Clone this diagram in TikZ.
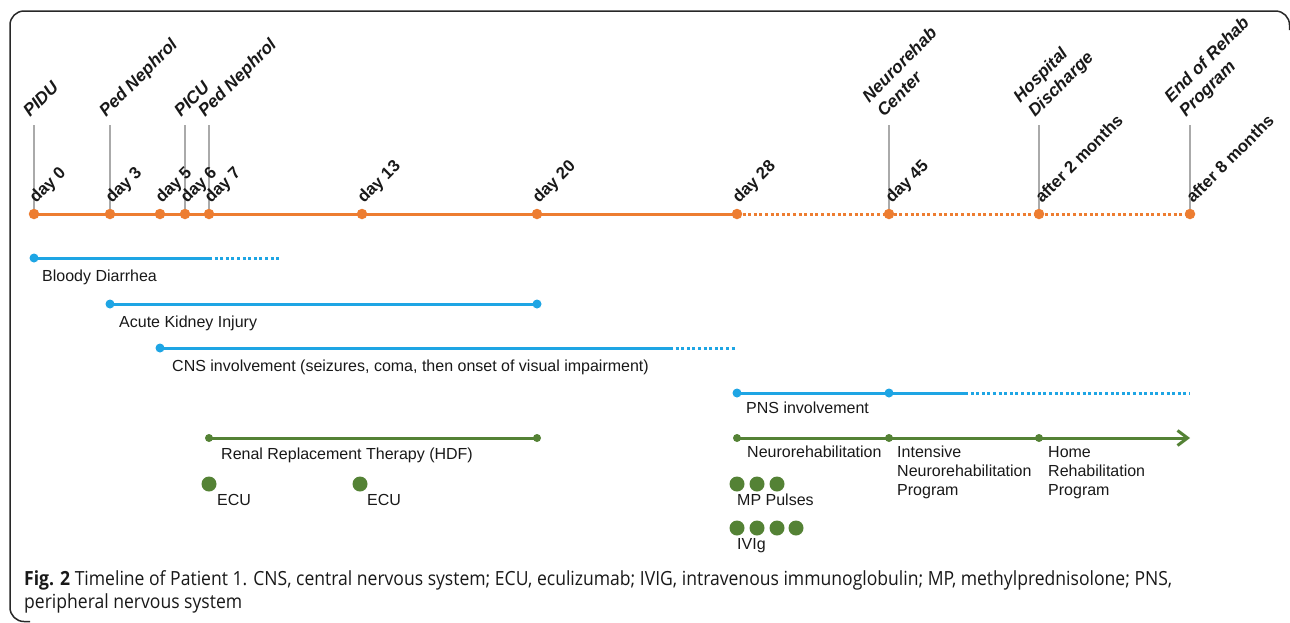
\documentclass[tikz,border=0pt]{standalone}
\usepackage{fontspec}
\setmainfont{Liberation Sans}
\newfontfamily\capfont[FakeStretch=0.9]{Open Sans}
\usetikzlibrary{arrows.meta}
\definecolor{tlorange}{RGB}{237,125,49}
\definecolor{tlblue}{RGB}{30,165,228}
\definecolor{tlgreen}{RGB}{84,130,53}
\definecolor{tlgray}{RGB}{170,170,170}
\definecolor{frame}{RGB}{40,40,40}
\definecolor{ink}{RGB}{25,25,25}
\begin{document}
\begin{tikzpicture}[x=1pt,y=-1pt,
  odot/.style={circle,fill=tlorange,inner sep=0pt,minimum size=10.5pt},
  bdot/.style={circle,fill=tlblue,inner sep=0pt,minimum size=9pt},
  gdot/.style={circle,fill=tlgreen,inner sep=0pt,minimum size=8pt},
  gbig/.style={circle,fill=tlgreen,inner sep=0pt,minimum size=15pt},
  oline/.style={draw=tlorange,line width=3pt},
  odotted/.style={oline,dash pattern=on 3pt off 2.6pt},
  bline/.style={draw=tlblue,line width=3pt},
  bdotted/.style={bline,dash pattern=on 3pt off 2.6pt},
  gline/.style={draw=tlgreen,line width=3pt},
  tickline/.style={draw=tlgray,line width=1.4pt},
  toplab/.style={rotate=45,anchor=base west,inner sep=0pt,text=ink,font=\fontsize{17.3}{21}\selectfont\bfseries\itshape},
  daylab/.style={rotate=45,anchor=base west,inner sep=0pt,text=ink,font=\fontsize{16.8}{20}\selectfont\bfseries},
  lab/.style={anchor=base west,inner sep=0pt,text=ink,font=\fontsize{16}{19}\selectfont},
]
\useasboundingbox (0,0) rectangle (1290,622);
\fill[white] (0,0) rectangle (1290,622);
\draw[line width=1.5pt,draw=frame,rounded corners=14pt] (30,621.5) -- (10,621.5) -- (10,11) -- (1289.5,11) -- (1289.5,30);

% timeline coordinates
\coordinate (t0) at (34,214);
\coordinate (t3) at (110,214);
\coordinate (t5) at (160,214);
\coordinate (t6) at (185,214);
\coordinate (t7) at (209,214);
\coordinate (t13) at (362,214);
\coordinate (t20) at (537,214);
\coordinate (t28) at (737,214);
\coordinate (t45) at (889,214);
\coordinate (tm2) at (1039,214);
\coordinate (tm8) at (1190,214);
% tick tops
\coordinate (k0) at (34,125);
\coordinate (k3) at (110,125);
\coordinate (k6) at (185,125);
\coordinate (k7) at (209,125);
\coordinate (k45) at (889,125);
\coordinate (km2) at (1039,125);
\coordinate (km8) at (1190,125);

\draw[tickline] (k0) -- (t0);
\draw[tickline] (k3) -- (t3);
\draw[tickline] (k6) -- (t6);
\draw[tickline] (k7) -- (t7);
\draw[tickline] (k45) -- (t45);
\draw[tickline] (km2) -- (tm2);
\draw[tickline] (km8) -- (tm8);

\draw[oline] (t0) -- (t28);
\draw[odotted] (t28) -- (tm8);
\foreach \n in {t0,t3,t5,t6,t7,t13,t20,t28,t45,tm2,tm8}
  \node[odot] (dot-\n) at (\n) {};

% top labels
\node[toplab] (pidu) at (30,118) {PIDU};
\node[toplab] (ped1) at (106,118) {Ped Nephrol};
\node[toplab] (picu) at (181,118) {PICU};
\node[toplab] (ped2) at (205,118) {Ped Nephrol};
\node[toplab] (nrc) at (884,118) {\begin{tabular}[b]{@{}l@{}}Neurorehab\\Center\end{tabular}};
\node[toplab] (hd) at (1035,118) {\begin{tabular}[b]{@{}l@{}}Hospital\\Discharge\end{tabular}};
\node[toplab] (erp) at (1186,118) {\begin{tabular}[b]{@{}l@{}}End of Rehab\\Program\end{tabular}};

% day labels
\node[daylab] (l0) at (36,204) {day 0};
\node[daylab] (l3) at (112,204) {day 3};
\node[daylab] (l5) at (162,204) {day 5};
\node[daylab] (l6) at (187,204) {day 6};
\node[daylab] (l7) at (211,204) {day 7};
\node[daylab] (l13) at (364,204) {day 13};
\node[daylab] (l20) at (539,204) {day 20};
\node[daylab] (l28) at (739,204) {day 28};
\node[daylab] (l45) at (892,204) {day 45};
\node[daylab] (lm2) at (1042,204) {after 2 months};
\node[daylab] (lm8) at (1193,204) {after 8 months};

% blue: bloody diarrhea
\coordinate (bd0) at (34,258);
\coordinate (bd1) at (209,258);
\coordinate (bd2) at (281,258);
\draw[bline] (bd0) -- (bd1);
\draw[bdotted] (bd1) -- (bd2);
\node[bdot] (bdA) at (bd0) {};
\node[lab] (bdl) at (42,281) {Bloody Diarrhea};

% blue: AKI
\coordinate (ak0) at (110,304);
\coordinate (ak1) at (537,304);
\draw[bline] (ak0) -- (ak1);
\node[bdot] (akA) at (ak0) {};
\node[bdot] (akB) at (ak1) {};
\node[lab] (akl) at (119,327) {Acute Kidney Injury};

% blue: CNS
\coordinate (cn0) at (160,348);
\coordinate (cn1) at (670,348);
\coordinate (cn2) at (737,348);
\draw[bline] (cn0) -- (cn1);
\draw[bdotted] (cn1) -- (cn2);
\node[bdot] (cnA) at (cn0) {};
\node[lab] (cnl) at (172,371) {CNS involvement (seizures, coma, then onset of visual impairment)};

% blue: PNS
\coordinate (pn0) at (737,393);
\coordinate (pn1) at (889,393);
\coordinate (pn2) at (965,393);
\coordinate (pn3) at (1190,393);
\draw[bline] (pn0) -- (pn2);
\draw[bdotted] (pn2) -- (pn3);
\node[bdot] (pnA) at (pn0) {};
\node[bdot] (pnB) at (pn1) {};
\node[lab] (pnl) at (746,413) {PNS involvement};

% green: RRT
\coordinate (rr0) at (209,438);
\coordinate (rr1) at (537,438);
\draw[gline] (rr0) -- (rr1);
\node[gdot] (rrA) at (rr0) {};
\node[gdot] (rrB) at (rr1) {};
\node[lab] (rrl) at (221,459) {Renal Replacement Therapy (HDF)};

% ECU
\node[gbig] (ecu1) at (209,484) {};
\node[gbig] (ecu2) at (360,484) {};
\node[lab] (ecul1) at (217,505) {ECU};
\node[lab] (ecul2) at (367,505) {ECU};

% green: neurorehabilitation
\coordinate (nr0) at (737,438);
\coordinate (nr1) at (889,438);
\coordinate (nr2) at (1039,438);
\coordinate (nr3) at (1190,438);
\draw[gline,-{Straight Barb[length=10pt,width=15pt]}] (nr0) -- (nr3);
\node[gdot] (nrA) at (nr0) {};
\node[gdot] (nrB) at (nr1) {};
\node[gdot] (nrC) at (nr2) {};
\node[lab] (nrl) at (747,457) {Neurorehabilitation};
\node[lab] (inl) at (897,457) {\begin{tabular}[t]{@{}l@{}}Intensive\\Neurorehabilitation\\Program\end{tabular}};
\node[lab] (hrl) at (1048,457) {\begin{tabular}[t]{@{}l@{}}Home\\Rehabilitation\\Program\end{tabular}};

% MP pulses
\node[gbig] (mp1) at (737,484) {};
\node[gbig] (mp2) at (757,484) {};
\node[gbig] (mp3) at (777,484) {};
\node[lab] (mpl) at (737,505) {MP Pulses};

% IVIg
\node[gbig] (iv1) at (737,528) {};
\node[gbig] (iv2) at (757,528) {};
\node[gbig] (iv3) at (777,528) {};
\node[gbig] (iv4) at (796,528) {};
\node[lab] (ivl) at (737,549) {IVIg};

% caption
\node[anchor=base west,inner sep=0pt,text=ink,font=\capfont\fontsize{19.5}{23}\selectfont] (cap) at (24,585)
  {\begin{tabular}[t]{@{}l@{}}\textbf{Fig. 2} Timeline of Patient 1. CNS, central nervous system; ECU, eculizumab; IVIG, intravenous immunoglobulin; MP, methylprednisolone; PNS,\\peripheral nervous system\end{tabular}};
\end{tikzpicture}
\end{document}
